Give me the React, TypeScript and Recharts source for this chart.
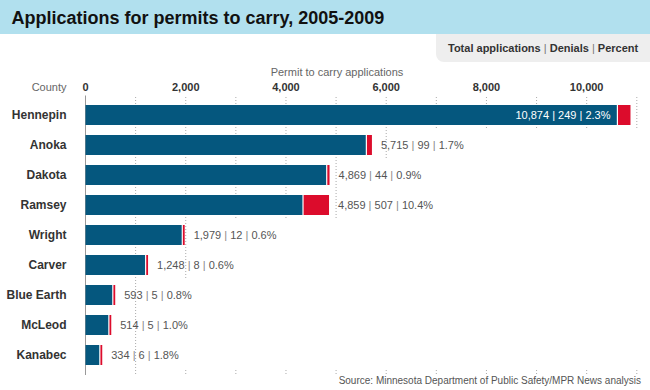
import { BarChart, Bar, XAxis, YAxis, LabelList } from 'recharts'

const counties = ['Hennepin', 'Anoka', 'Dakota', 'Ramsey', 'Wright', 'Carver', 'Blue Earth', 'McLeod', 'Kanabec']
const totals = [10874, 5715, 4869, 4859, 1979, 1248, 593, 514, 334]
const denials = [249, 99, 44, 507, 12, 8, 5, 5, 6]
const percents = ['2.3%', '1.7%', '0.9%', '10.4%', '0.6%', '0.6%', '0.8%', '1.0%', '1.8%']
const xTicks = [0, 2000, 4000, 6000, 8000, 10000]
const xMax = 11000
const gridStep = 1000

const BLUE = '#05577e'
const RED = '#dc0c2c'
const FONT = '"Liberation Sans", Arial, Helvetica, sans-serif'

const data = counties.map((county, i) => ({
  county,
  approved: totals[i] - denials[i],
  denials: denials[i],
  total: totals[i],
  pct: percents[i],
}))

const fmt = (n: number) => n.toLocaleString('en-US')

// rows are 30px bands with 20px bars -> 5px of gap above and below each bar
const HALF_GAP = 5
const MIN_RED = 1.8

// dotted gridlines per row, only as far as the row's value reaches (rounded up)
function RowGrid(props: any) {
  const { x, y, width, height, index } = props
  const row = data[index]
  if (!row) return null
  const first = index === 0
  const last = index === data.length - 1
  const top = y - HALF_GAP - (first ? 3 : 0)
  const bottom = y + height + HALF_GAP
  const upTo = Math.ceil(row.total / gridStep) * gridStep
  const lines = []
  for (let v = gridStep; v <= xMax; v += gridStep) {
    const gx = x + (v / xMax) * width
    if (v <= upTo) {
      lines.push(
        <line key={v} x1={gx} x2={gx} y1={top} y2={bottom + (last ? 5 : 0)}
          stroke="#aaa" strokeDasharray="1 2" />
      )
    } else if (last) {
      lines.push(
        <line key={v} x1={gx} x2={gx} y1={bottom} y2={bottom + 5}
          stroke="#aaa" strokeDasharray="1 2" />
      )
    }
  }
  return (
    <g>
      {lines}
      <line x1={x} x2={x} y1={first ? top - 1.5 : top} y2={bottom + (last ? 5 : 0)} stroke="#999" />
    </g>
  )
}

function ApprovedShape(props: any) {
  const { x, y, width, height, payload } = props
  const redW = payload.approved > 0 ? (width * payload.denials) / payload.approved : 0
  const extra = Math.max(0, MIN_RED - redW)
  const w = Math.max(0, width - 1.2 - extra)
  return <rect x={x} y={y} width={w} height={height} fill={BLUE} />
}

function DenialShape(props: any) {
  const { x, y, width, height } = props
  const end = x + width
  const w = Math.max(width, MIN_RED)
  return <rect x={end - w} y={y} width={w} height={height} fill={RED} />
}

function ValueLabel(props: any) {
  const x = Number(props.x)
  const y = Number(props.y)
  const width = Number(props.width)
  const height = Number(props.height)
  const row = data[props.index]
  if (!row) return null
  const inside = row.total > 9000
  const tx = inside ? x - 7.5 : x + width + 9
  const pipe = inside ? '#fff' : '#888'
  return (
    <text x={tx} y={y + height / 2} dy="0.36em" textAnchor={inside ? 'end' : 'start'}
      fontSize={11} fontFamily={FONT} fill={inside ? '#fff' : '#555'} style={{ whiteSpace: 'pre' }}>
      {fmt(row.total)}<tspan fill={pipe}> | </tspan>{row.denials}<tspan fill={pipe}> | </tspan>{row.pct}
    </text>
  )
}

function XTick(props: any) {
  const { x, y, payload } = props
  return (
    <text x={x} y={y} textAnchor="middle" fontSize={11} fontWeight="bold" fontFamily={FONT} fill="#333">
      {fmt(payload.value)}
    </text>
  )
}

function YTick(props: any) {
  const { x, y, payload } = props
  return (
    <text x={x} y={y} dy="0.36em" textAnchor="end" fontSize={12} fontWeight="bold" fontFamily={FONT} fill="#333">
      {payload.value}
    </text>
  )
}

export default function App() {
  return (
    <div style={{ position: 'absolute', left: 0, top: 0, width: 650, height: 390, background: '#fff', fontFamily: FONT }}>
      <svg width={650} height={390} style={{ position: 'absolute', left: 0, top: 0 }}>
        <rect x={0} y={0} width={650} height={34} fill="#b1e0ee" />
        <text x={11.5} y={24} fontSize={18} fontWeight="bold" fontFamily={FONT} fill="#111">
          Applications for permits to carry, 2005-2009
        </text>
        <path d="M436,34 H650 V62 H444 A8,8 0 0 1 436,54 Z" fill="#eeeeee" />
        <text x={448} y={52} fontSize={11} fontWeight="bold" fontFamily={FONT} fill="#333" style={{ whiteSpace: 'pre' }}>
          Total applications<tspan fontWeight="normal" fill="#777"> | </tspan>Denials<tspan fontWeight="normal" fill="#777"> | </tspan>Percent
        </text>
        <text x={337} y={75.5} textAnchor="middle" fontSize={11} fontFamily={FONT} fill="#666">
          Permit to carry applications
        </text>
        <text x={66.5} y={91} textAnchor="end" fontSize={11} fontFamily={FONT} fill="#666">
          County
        </text>
        <text x={641} y={384} textAnchor="end" fontSize={10} fontFamily={FONT} fill="#555">
          Source: Minnesota Department of Public Safety/MPR News analysis
        </text>
      </svg>
      <div style={{ position: 'absolute', left: 0, top: 0 }}>
        <BarChart width={650} height={390} data={data} layout="vertical" barSize={20}
          margin={{ top: 0, right: 13.2, bottom: 20, left: 0 }}>
          <XAxis type="number" orientation="top" domain={[0, xMax]} ticks={xTicks} height={100}
            axisLine={false} tickLine={false} tickSize={0} tickMargin={9} tick={<XTick />} interval={0} />
          <YAxis type="category" dataKey="county" width={85.5} axisLine={false} tickLine={false}
            tickSize={0} tickMargin={19} tick={<YTick />} interval={0} />
          <Bar dataKey="approved" stackId="a" fill={BLUE} shape={<ApprovedShape />}
            background={(p: any) => <RowGrid {...p} />} isAnimationActive={false} />
          <Bar dataKey="denials" stackId="a" fill={RED} shape={<DenialShape />} isAnimationActive={false}>
            <LabelList dataKey="total" content={<ValueLabel />} />
          </Bar>
        </BarChart>
      </div>
    </div>
  )
}
